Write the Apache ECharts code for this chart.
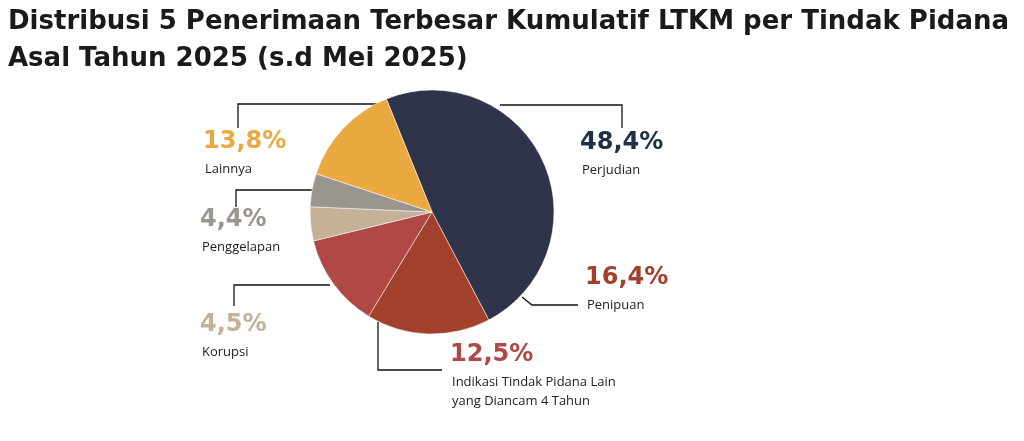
<!DOCTYPE html>
<html><head><meta charset="utf-8">
<script src="https://cdn.jsdelivr.net/npm/echarts@6/dist/echarts.min.js"></script>
<style>html,body{margin:0;background:#fff}#c{width:1024px;height:441px}</style>
</head><body><div id="c"></div>
<script>
const categories=['Perjudian','Penipuan','Indikasi Tindak Pidana Lain\nyang Diancam 4 Tahun','Korupsi','Penggelapan','Lainnya'];
const values=[48.4,16.4,12.5,4.5,4.4,13.8];
const colors=['#30344a','#a1412c','#b04945','#c4b198','#9b9590','#e9a840'];
const pctColors=['#1e3045','#a1412c','#b04945','#c4b198','#9b9590','#e9a840'];
const labelPos=[[580,131],[585,266],[450,343],[200,313],[200,208],[203,130]];
const lines=[
 [[500,105],[622,105],[622,128]],
 [[522,297],[532,305],[578,305]],
 [[378,322],[378,370],[442,370]],
 [[330,285],[234,285],[234,306]],
 [[312,190],[236,190],[236,207]],
 [[385,104],[238,104],[238,128]]
];
const g=[{type:'text',left:8,top:4,style:{text:'Distribusi 5 Penerimaan Terbesar Kumulatif LTKM per Tindak Pidana\nAsal Tahun 2025 (s.d Mei 2025)',font:'bold 26px "DejaVu Sans"',fill:'#1a1a1a',lineHeight:37}}];
values.forEach((v,i)=>{
 g.push({type:'text',x:labelPos[i][0],y:labelPos[i][1],style:{text:v.toFixed(1).replace('.',',')+'%',font:'bold 24px "DejaVu Sans"',fill:pctColors[i]}});
 g.push({type:'text',x:labelPos[i][0]+2,y:labelPos[i][1]+30,style:{text:categories[i],font:'13px "Open Sans"',fill:'#222',lineHeight:19}});
 g.push({type:'polyline',shape:{points:lines[i]},style:{stroke:'#111',lineWidth:1.3,fill:null}});
});
const ch=echarts.init(document.getElementById('c'));
ch.setOption({animation:false,graphic:g,series:[{type:'pie',center:[432,212],radius:122,startAngle:112,label:{show:false},labelLine:{show:false},
 itemStyle:{borderColor:'#fff',borderWidth:0.5},
 data:values.map((v,i)=>({value:v,name:categories[i],itemStyle:{color:colors[i]}}))}]});
</script></body></html>
